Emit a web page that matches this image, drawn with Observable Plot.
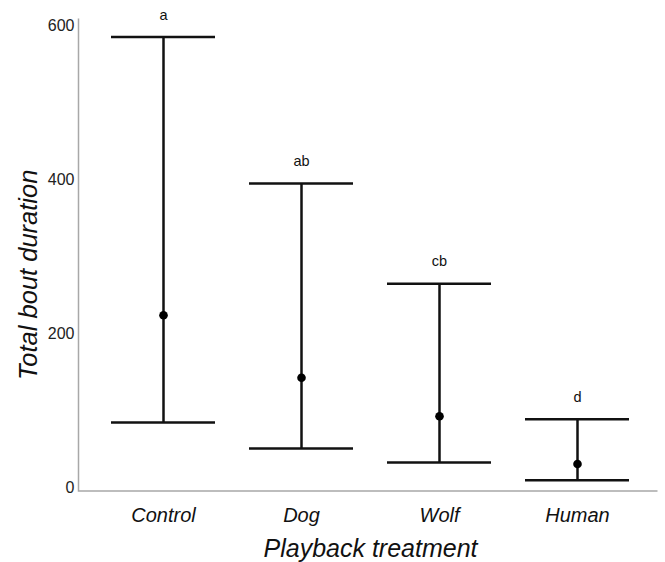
<!DOCTYPE html>
<html>
<head>
<meta charset="utf-8">
<script src="https://cdn.jsdelivr.net/npm/d3@7"></script>
<script src="https://cdn.jsdelivr.net/npm/@observablehq/plot@0.6"></script>
<style>
  html, body { margin: 0; padding: 0; background: #fff; }
  #chart svg { display: block; font-family: "Liberation Sans", Arial, sans-serif; }
</style>
</head>
<body>
<div id="chart"></div>
<script>
const categories = ["Control", "Dog", "Wolf", "Human"];
const upper = [585, 395, 265, 89];
const lower = [85, 51, 33, 10];
const centre = [224, 143, 93, 31];
const letters = ["a", "ab", "cb", "d"];
const yTicks = [0, 200, 400, 600];
const xTitle = "Playback treatment";
const yTitle = "Total bout duration";

const rows = categories.map((c, i) => ({
  cat: c, hi: upper[i], lo: lower[i], mid: centre[i], letter: letters[i]
}));

const W = 665, H = 562;
const mL = 78, mR = 8, mT = 18, mB = 71.5;
const fw = W - mL - mR, fh = H - mT - mB;

const plot = Plot.plot({
  width: W,
  height: H,
  marginLeft: mL,
  marginRight: mR,
  marginTop: mT,
  marginBottom: mB,
  style: { fontFamily: '"Liberation Sans", Arial, sans-serif', background: "#fff", color: "#222" },
  x: { type: "band", domain: categories, range: [80.5, 659.5], paddingInner: 0.243, paddingOuter: 0.218, label: null },
  y: { domain: [-4, 609], label: null },
  marks: [
    Plot.frame({ stroke: "#a8a8a8", strokeWidth: 1.5, strokeDasharray: `0 ${fw + fh} ${fw + fh}` }),
    Plot.axisY(yTicks, { tickSize: 0, tickPadding: 4, fontSize: 16, label: null, fill: "#222" }),
    Plot.axisX({ tickSize: 0, tickPadding: 17, fontSize: 20, fontStyle: "italic", label: null, fill: "#111" }),
    Plot.ruleX(rows, { x: "cat", y1: "lo", y2: "hi", stroke: "#111", strokeWidth: 2.5 }),
    Plot.tickY(rows, { x: "cat", y: "hi", stroke: "#111", strokeWidth: 2.5 }),
    Plot.tickY(rows, { x: "cat", y: "lo", stroke: "#111", strokeWidth: 2.5 }),
    Plot.dot(rows, { x: "cat", y: "mid", r: 4.3, fill: "#000", stroke: "none" }),
    Plot.text(rows, { x: "cat", y: "hi", text: "letter", dy: -22, fontSize: 14.5, fill: "#111", lineAnchor: "middle" }),
    Plot.text([xTitle], { frameAnchor: "bottom", dx: 2.5, dy: 57.5, fontSize: 25, fontStyle: "italic", fill: "#111", textAnchor: "middle", lineAnchor: "middle" }),
    Plot.text([yTitle], { frameAnchor: "left", rotate: -90, dx: -50, dy: 20, fontSize: 25.5, fontStyle: "italic", fill: "#111", textAnchor: "middle", lineAnchor: "middle" })
  ]
});

document.getElementById("chart").appendChild(plot);
</script>
</body>
</html>
